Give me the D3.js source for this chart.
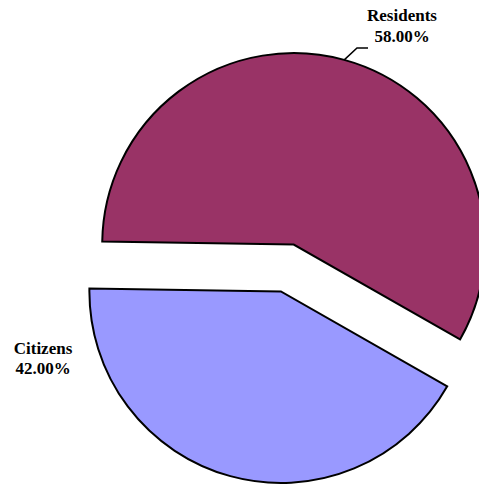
<!DOCTYPE html>
<html>
<head>
<meta charset="utf-8">
<script src="https://cdn.jsdelivr.net/npm/d3@7"></script>
<style>
  html, body { margin: 0; padding: 0; background: #fff; }
  svg { display: block; }
  .lbl { font-family: "Liberation Serif", "Times New Roman", serif; font-weight: bold; font-size: 17px; fill: #000; }
</style>
</head>
<body>
<div id="chart"></div>
<script>
// --- data ---
const categories = ["Residents", "Citizens"];
const shares = [58, 42];
const percentLabels = ["58.00%", "42.00%"];
const sliceColors = ["#993366", "#9999FF"];

(function () {
  const width = 479, height = 484;
  const cx = 287.3, cy = 268;      // pie centre before explosion
  const radius = 191.5;
  const explode = 24.3;
  const startDeg = -89.1;           // first slice starts just left of 9 o'clock

  const svg = d3.select("#chart").append("svg")
    .attr("width", width).attr("height", height);

  const pie = d3.pie().sort(null).value(d => d.value)
    .startAngle(startDeg * Math.PI / 180)
    .endAngle((startDeg + 360) * Math.PI / 180);

  const arcs = pie(categories.map((c, i) => ({ name: c, value: shares[i], color: sliceColors[i], pct: percentLabels[i] })));

  const arc = d3.arc().innerRadius(0).outerRadius(radius);

  const offset = (d, r) => {
    const a = (d.startAngle + d.endAngle) / 2;
    return [Math.sin(a) * r, -Math.cos(a) * r];
  };

  const g = svg.append("g").attr("transform", `translate(${cx},${cy})`);

  g.selectAll("path.slice")
    .data(arcs)
    .enter()
    .append("path")
    .attr("class", "slice")
    .attr("transform", d => {
      const [dx, dy] = offset(d, explode);
      return `translate(${dx},${dy})`;
    })
    .attr("d", arc)
    .attr("fill", d => d.data.color)
    .attr("stroke", "#000")
    .attr("stroke-width", 2)
    .attr("stroke-linejoin", "miter");

  // --- labels (positioned as in the reference) ---
  const labelPos = {
    Residents: { x: 402, y: 21 },
    Citizens: { x: 43, y: 353.5 }
  };

  arcs.forEach(d => {
    const p = labelPos[d.data.name];
    const t = svg.append("text").attr("class", "lbl").attr("text-anchor", "middle");
    t.append("tspan").attr("x", p.x).attr("y", p.y).text(d.data.name);
    t.append("tspan").attr("x", p.x).attr("y", p.y + 20.5).text(d.data.pct);
  });

  // leader line for Residents: from arc edge at mid-angle to the label
  const res = arcs[0];
  const [ex, ey] = offset(res, explode + radius);
  const a0 = [cx + ex, cy + ey];
  svg.append("polyline")
    .attr("points", [a0, [357, 48], [368, 48]].map(p => p.join(",")).join(" "))
    .attr("fill", "none")
    .attr("stroke", "#000")
    .attr("stroke-width", 1.5);
})();
</script>
</body>
</html>
